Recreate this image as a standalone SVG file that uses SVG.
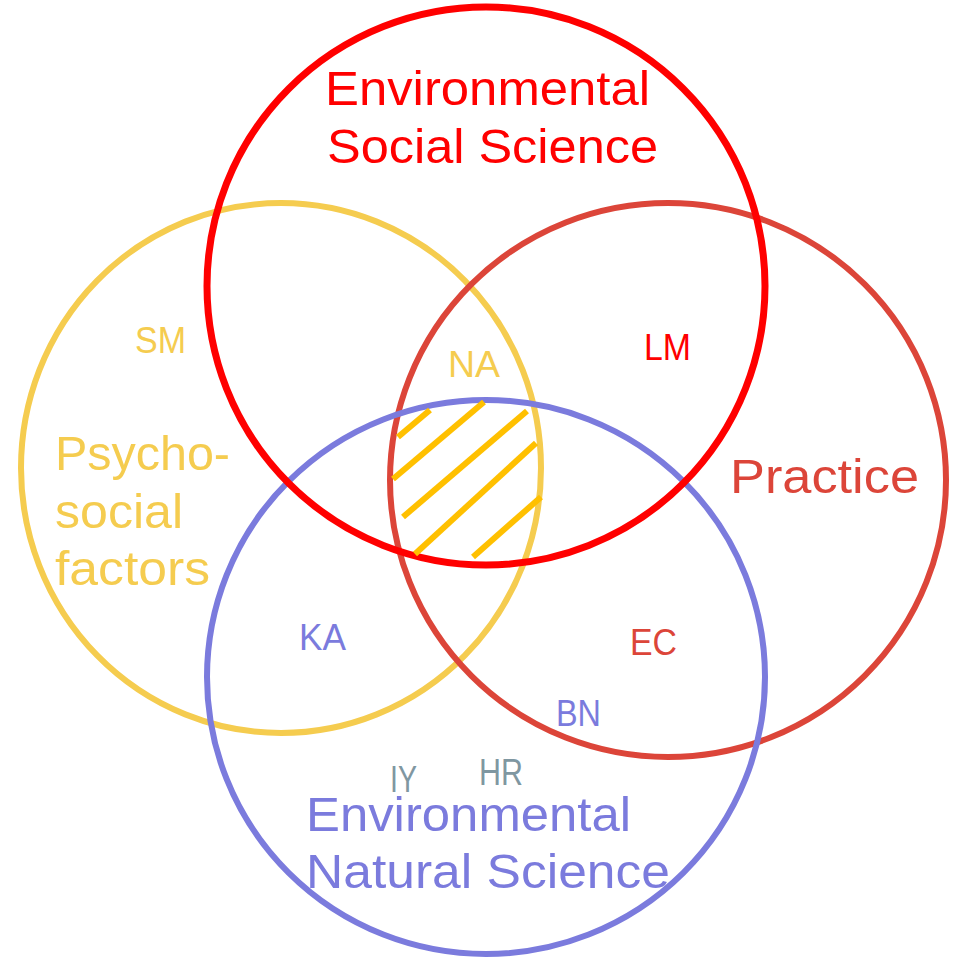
<svg xmlns="http://www.w3.org/2000/svg" width="955" height="959" viewBox="0 0 955 959">
<style>
.c{fill:none;stroke-width:6}
.t{font-family:"Liberation Sans","DejaVu Sans",sans-serif}
.big{font-size:48px}
.sm{font-size:36px}
.yel{fill:#F5CC4F}
.red{fill:#FF0000}
.dred{fill:#DC4539}
.blu{fill:#7B7BDD}
.gry{fill:#7F97A1}
.h{stroke:#FFC000;stroke-width:6;fill:none}
</style>
<rect width="955" height="959" fill="#ffffff"/>
<g id="psychosocial">
<ellipse class="c" cx="281" cy="468" rx="260" ry="265" stroke="#F5CC4F"/>
<text class="t big yel" x="55" y="470" textLength="175" lengthAdjust="spacingAndGlyphs">Psycho-</text>
<text class="t big yel" x="55" y="528" textLength="128" lengthAdjust="spacingAndGlyphs">social</text>
<text class="t big yel" x="55" y="585" textLength="155" lengthAdjust="spacingAndGlyphs">factors</text>
</g>
<g id="practice">
<ellipse class="c" cx="668" cy="480" rx="278" ry="277" stroke="#DC4539"/>
<text class="t big dred" x="730" y="493" textLength="189" lengthAdjust="spacingAndGlyphs">Practice</text>
</g>
<g id="natural">
<ellipse class="c" cx="486" cy="677" rx="279" ry="277" stroke="#7B7BDD"/>
<text class="t big blu" x="306" y="831" textLength="325" lengthAdjust="spacingAndGlyphs">Environmental</text>
<text class="t big blu" x="306" y="888" textLength="364" lengthAdjust="spacingAndGlyphs">Natural Science</text>
</g>
<g id="social">
<ellipse cx="486" cy="286" rx="279" ry="279" fill="none" stroke="#FF0000" stroke-width="7"/>
<text class="t big red" x="325" y="105" textLength="325" lengthAdjust="spacingAndGlyphs">Environmental</text>
<text class="t big red" x="327" y="163" textLength="331" lengthAdjust="spacingAndGlyphs">Social Science</text>
</g>
<g id="hatch">
<line class="h" x1="398" y1="437" x2="430" y2="410"/>
<line class="h" x1="393" y1="479" x2="484" y2="402"/>
<line class="h" x1="403" y1="517" x2="527" y2="411"/>
<line class="h" x1="415" y1="554" x2="536" y2="443"/>
<line class="h" x1="473" y1="557" x2="541" y2="497"/>
</g>
<g id="labels">
<text class="t sm yel" x="135" y="353" textLength="51" lengthAdjust="spacingAndGlyphs">SM</text>
<text class="t sm yel" x="448" y="377" textLength="52" lengthAdjust="spacingAndGlyphs">NA</text>
<text class="t sm red" x="644" y="360" textLength="47" lengthAdjust="spacingAndGlyphs">LM</text>
<text class="t sm blu" x="299" y="650" textLength="47" lengthAdjust="spacingAndGlyphs">KA</text>
<text class="t sm dred" x="630" y="655" textLength="47" lengthAdjust="spacingAndGlyphs">EC</text>
<text class="t sm blu" x="556" y="726" textLength="45" lengthAdjust="spacingAndGlyphs">BN</text>
<text class="t sm gry" x="390" y="792" textLength="27" lengthAdjust="spacingAndGlyphs">IY</text>
<text class="t sm gry" x="479" y="785" textLength="44" lengthAdjust="spacingAndGlyphs">HR</text>
</g>
</svg>
